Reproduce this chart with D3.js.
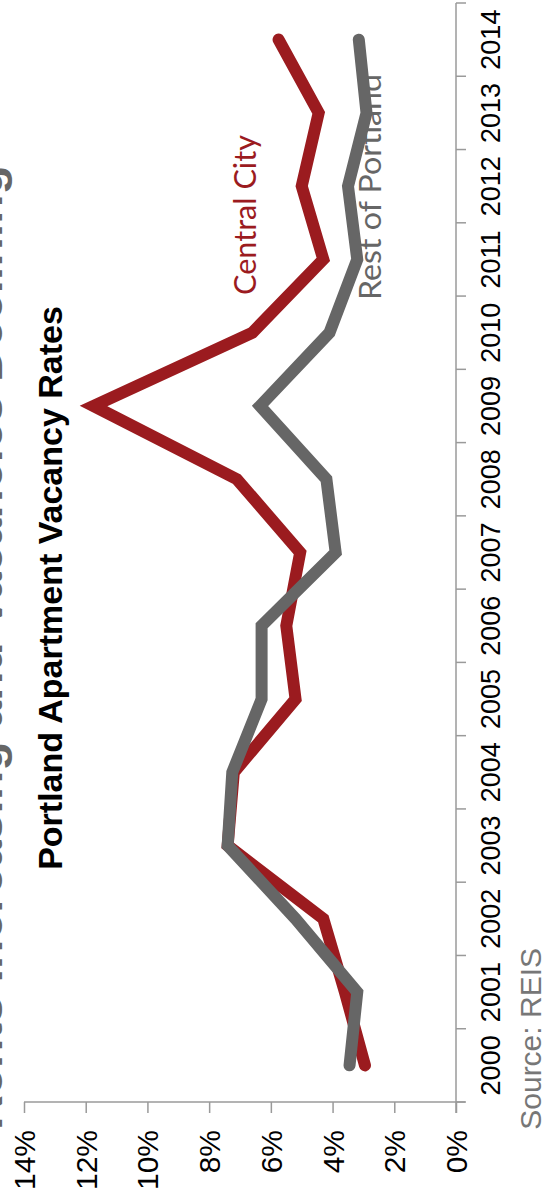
<!DOCTYPE html>
<html>
<head>
<meta charset="utf-8">
<script src="https://cdn.jsdelivr.net/npm/d3@7"></script>
<style>
  html, body { margin: 0; padding: 0; background: #fff; }
  svg { display: block; }
</style>
</head>
<body>
<svg id="chart" width="544" height="1200"></svg>
<script>
// ---- Data ----
const years = [2000, 2001, 2002, 2003, 2004, 2005, 2006, 2007, 2008, 2009, 2010, 2011, 2012, 2013, 2014];
const centralCity = [2.95, 3.6, 4.3, 7.4, 7.2, 5.2, 5.5, 5.05, 7.1, 11.75, 6.6, 4.3, 5.0, 4.45, 5.75];
const restOfPortland = [3.45, 3.2, 5.2, 7.4, 7.25, 6.3, 6.3, 3.9, 4.2, 6.35, 4.1, 3.2, 3.5, 2.9, 3.15];
const valueTicks = [0, 2, 4, 6, 8, 10, 12, 14];
const seriesNames = ["Central City", "Rest of Portland"];
const titleText = "Portland Apartment Vacancy Rates";
const headlineText = "Rents Increasing and Vacancies Declining";
const sourceText = "Source: REIS";

// ---- Layout (chart is rotated 90° counter-clockwise) ----
const svg = d3.select("#chart");
const FONT = "'Liberation Sans', Arial, sans-serif";
const red = "#9b1b1f", gray = "#666666", axisColor = "#9a9a9a";

const x = d3.scaleLinear().domain([0, 14]).range([456, 24]);
const y = d3.scaleBand().domain(years).range([1102, 3]).paddingInner(0).paddingOuter(0);
const bw = y.bandwidth();
const yc = d => y(d) + bw / 2;

// Cut-off headline on the left edge
svg.append("text")
  .attr("transform", `translate(2, ${(1130 + 165) / 2}) rotate(-90)`)
  .attr("text-anchor", "middle")
  .attr("font-family", FONT)
  .attr("font-size", 46)
  .attr("font-weight", "bold")
  .attr("fill", "#666")
  .attr("textLength", 965)
  .attr("lengthAdjust", "spacingAndGlyphs")
  .text(headlineText);

// Value axis (bottom)
const xAxis = d3.axisBottom(x).tickValues(valueTicks).tickSize(11).tickSizeOuter(0).tickFormat(d => d + "%");
const gx = svg.append("g").attr("transform", "translate(0,1102)").call(xAxis);
gx.select(".domain").attr("stroke", axisColor).attr("stroke-width", 1.5)
  .attr("d", `M24,0H465`);
gx.selectAll(".tick line").attr("stroke", axisColor).attr("stroke-width", 1.5);
gx.selectAll(".tick text")
  .attr("font-family", FONT).attr("font-size", 30).attr("fill", "#000")
  .attr("text-anchor", "end")
  .attr("x", 0).attr("y", 0).attr("dy", "0.35em")
  .attr("transform", "translate(0,28) rotate(-90)");

// Year axis (right)
const gy = svg.append("g");
gy.append("line").attr("x1", 456).attr("x2", 456).attr("y1", 3).attr("y2", 1113)
  .attr("stroke", axisColor).attr("stroke-width", 1.5);
const bounds = years.map(d => y(d)).concat([y(years[0]) + bw]);
gy.selectAll("line.tk").data(bounds).join("line").attr("class", "tk")
  .attr("x1", 456).attr("x2", 466).attr("y1", d => d).attr("y2", d => d)
  .attr("stroke", axisColor).attr("stroke-width", 1.5);
gy.selectAll("text").data(years).join("text")
  .attr("transform", d => `translate(500, ${yc(d)}) rotate(-90)`)
  .attr("text-anchor", "middle")
  .attr("font-family", FONT).attr("font-size", 27).attr("fill", "#000")
  .text(d => d);

// Lines
const line = d3.line().x(d => x(d.v)).y(d => yc(d.year));
const series = [
  { name: seriesNames[0], color: red, values: years.map((yr, i) => ({ year: yr, v: centralCity[i] })) },
  { name: seriesNames[1], color: gray, values: years.map((yr, i) => ({ year: yr, v: restOfPortland[i] })) }
];
svg.selectAll("path.series").data(series).join("path").attr("class", "series")
  .attr("d", d => line(d.values))
  .attr("fill", "none")
  .attr("stroke", d => d.color)
  .attr("stroke-width", 12)
  .attr("stroke-linecap", "round")
  .attr("stroke-linejoin", "miter");

// Series labels
svg.append("text")
  .attr("transform", "translate(256, 215) rotate(-90)")
  .attr("text-anchor", "middle")
  .attr("font-family", "Lato, 'Open Sans', sans-serif").attr("font-size", 31)
  .attr("fill", red)
  .attr("textLength", 160).attr("lengthAdjust", "spacingAndGlyphs")
  .text(seriesNames[0]);
svg.append("text")
  .attr("transform", "translate(381, 187) rotate(-90)")
  .attr("text-anchor", "middle")
  .attr("font-family", "Lato, 'Open Sans', sans-serif").attr("font-size", 31)
  .attr("fill", gray)
  .attr("textLength", 226).attr("lengthAdjust", "spacingAndGlyphs")
  .text(seriesNames[1]);

// Title
svg.append("text")
  .attr("transform", `translate(62, ${(305 + 871) / 2}) rotate(-90)`)
  .attr("text-anchor", "middle")
  .attr("font-family", FONT).attr("font-size", 34).attr("font-weight", "bold")
  .attr("fill", "#000")
  .text(titleText);

// Source
svg.append("text")
  .attr("transform", "translate(541, 948) rotate(-90)")
  .attr("text-anchor", "end")
  .attr("font-family", FONT).attr("font-size", 30)
  .attr("fill", "#777")
  .text(sourceText);
</script>
</body>
</html>
